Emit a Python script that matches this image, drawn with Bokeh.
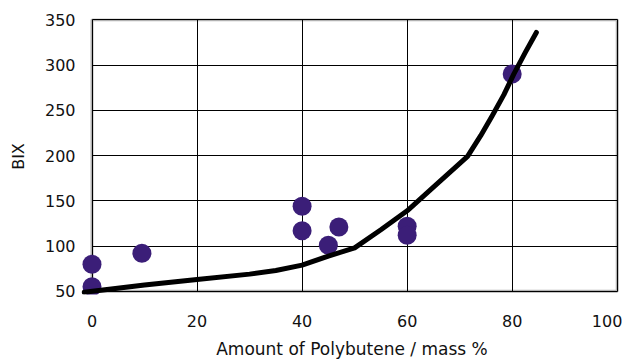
from bokeh.plotting import figure
from bokeh.models import Range1d, FixedTicker, BoxAnnotation
from bokeh.embed import file_html
from bokeh.resources import INLINE

# measured data points (Amount of Polybutene / mass %, BIX)
pt_x = [0, 0, 9.5, 40, 40, 45, 47, 60, 60, 80]
pt_y = [55, 80, 92, 144, 117, 101, 121, 122, 112, 290]

# fitted curve
line_x = [-1.5, 10, 20, 30, 35, 40, 45, 50, 55, 60, 65, 71.5, 74, 76.2, 78.4, 80.3, 82.5, 84.6]
line_y = [49, 57, 63, 69, 73, 79, 89, 98, 118, 139, 165, 199, 222, 244, 267, 290, 314, 336]

x_ticks = [0, 20, 40, 60, 80, 100]
y_ticks = [50, 100, 150, 200, 250, 300, 350]
x_lim = (0, 100)
y_lim = (50, 350)

FONT = "DejaVu Sans"
NBSP = "\u00a0"

p = figure(width=632, height=361, output_backend="svg", toolbar_location=None,
           x_range=Range1d(-2, 101), y_range=Range1d(46.5, 351.4),
           min_border_left=81, min_border_right=10, min_border_top=18, min_border_bottom=64)
p.outline_line_color = None
p.background_fill_color = "white"
p.border_fill_color = "white"

for ax in (p.xaxis[0], p.yaxis[0]):
    ax.axis_line_color = None
    ax.major_tick_line_color = None
    ax.minor_tick_line_color = None
    ax.major_tick_out = 0
    ax.major_tick_in = 0
    ax.major_label_text_font = FONT
    ax.major_label_text_font_size = "16px"
    ax.major_label_text_color = "#111111"
    ax.axis_label_text_font = FONT
    ax.axis_label_text_font_style = "normal"
    ax.axis_label_text_color = "#111111"

p.xaxis.ticker = FixedTicker(ticks=x_ticks)
p.yaxis.ticker = FixedTicker(ticks=y_ticks)
p.xaxis.major_label_overrides = {100: "100" + NBSP * 2}
p.xaxis.major_label_standoff = 17
p.yaxis.major_label_standoff = 6
p.xaxis.axis_label = "Amount of Polybutene / mass %"
p.xaxis.axis_label_text_font_size = "17px"
p.xaxis.axis_label_standoff = 5
p.yaxis.axis_label = "BIX"
p.yaxis.axis_label_text_font_size = "16px"
p.yaxis.axis_label_standoff = 14

p.xgrid.ticker = FixedTicker(ticks=x_ticks)
p.ygrid.ticker = FixedTicker(ticks=y_ticks)
for g in (p.xgrid[0], p.ygrid[0]):
    g.grid_line_color = "black"
    g.grid_line_width = 1
p.xgrid[0].cross_bounds = y_lim
p.ygrid[0].cross_bounds = x_lim

frame_box = BoxAnnotation(left=x_lim[0], right=x_lim[1], bottom=y_lim[0], top=y_lim[1],
                          fill_alpha=0, line_color="black", line_width=3, level="underlay")
p.add_layout(frame_box)

p.scatter(pt_x, pt_y, size=19, fill_color="#3b1e78", line_color=None)
p.line(line_x, line_y, line_color="black", line_width=5, line_join="round", line_cap="round")

open("out.html", "w").write(file_html(p, INLINE))
